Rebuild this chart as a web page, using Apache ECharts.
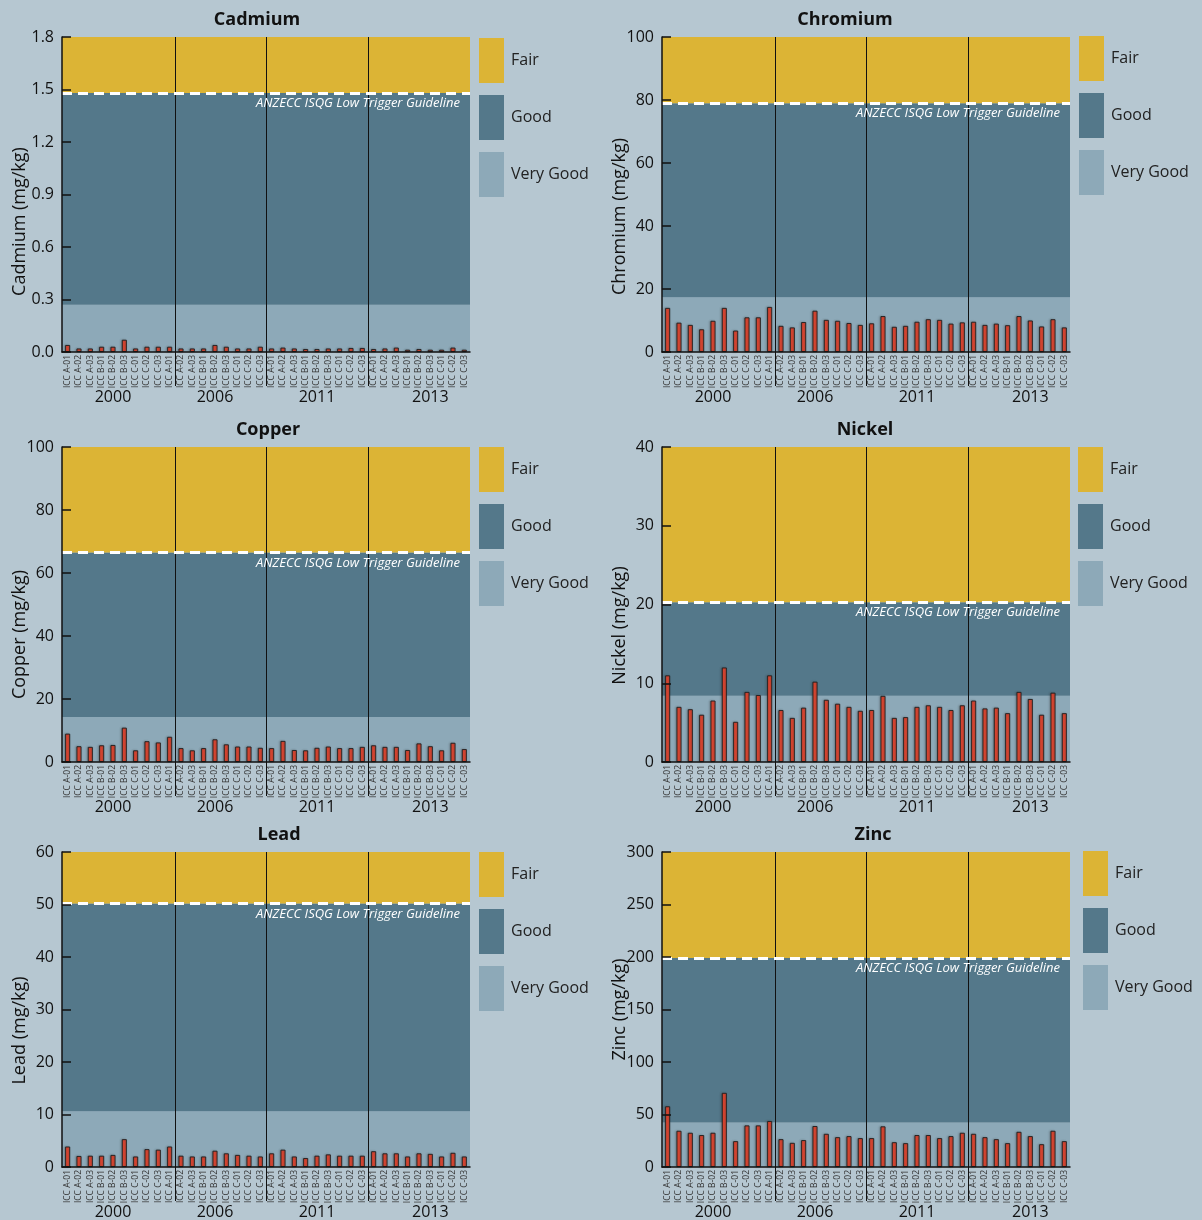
<!DOCTYPE html>
<html>
<head>
<meta charset="utf-8">
<title>Sediment metals</title>
<script src="https://cdn.jsdelivr.net/npm/echarts@6/dist/echarts.min.js"></script>
<style>
  html, body { margin: 0; padding: 0; background: #b6c7d1; }
  #chart { width: 1202px; height: 1220px; }
</style>
</head>
<body>
<div id="chart"></div>
<script>
// ---- data -------------------------------------------------------------
const sites = ['ICC A-01', 'ICC A-02', 'ICC A-03', 'ICC B-01', 'ICC B-02', 'ICC B-03', 'ICC C-01', 'ICC C-02', 'ICC C-03'];
const surveyYears = ['2000', '2006', '2011', '2013'];
const barsPerSurvey = [10, 8, 9, 9];

const metals = ['Cadmium', 'Chromium', 'Copper', 'Nickel', 'Lead', 'Zinc'];
const axisMax = [1.8, 100, 100, 40, 60, 300];
const axisStep = [0.3, 20, 20, 10, 10, 50];
const lowTrigger = [1.48, 79, 66.5, 20.3, 50.2, 199];     // ANZECC ISQG-Low
const veryGoodLimit = [0.27, 17.4, 14.3, 8.4, 10.6, 42.5];

const cadmium = [0.04, 0.02, 0.02, 0.03, 0.03, 0.07, 0.02, 0.03, 0.03, 0.03,
                 0.02, 0.02, 0.02, 0.04, 0.03, 0.02, 0.02, 0.03,
                 0.02, 0.025, 0.02, 0.017, 0.017, 0.02, 0.02, 0.023, 0.023,
                 0.017, 0.02, 0.025, 0.013, 0.017, 0.013, 0.013, 0.025, 0.013];
const chromium = [14.0, 9.3, 8.6, 7.2, 9.9, 14.0, 6.8, 11.0, 11.0, 14.3,
                  8.3, 7.8, 9.5, 13.1, 10.2, 9.9, 9.2, 8.6,
                  9.1, 11.4, 8.0, 8.3, 9.6, 10.4, 10.2, 9.0, 9.4,
                  9.6, 8.6, 9.0, 8.5, 11.4, 10.0, 8.1, 10.4, 7.8];
const copper = [9.0, 5.0, 4.8, 5.3, 5.4, 10.9, 3.7, 6.6, 6.2, 8.0,
                4.4, 3.7, 4.4, 7.2, 5.6, 4.9, 4.9, 4.5,
                4.4, 6.7, 3.8, 3.7, 4.5, 4.9, 4.4, 4.4, 4.8,
                5.3, 4.8, 4.8, 3.8, 5.9, 5.0, 3.7, 6.1, 4.1];
const nickel = [11.0, 7.0, 6.7, 6.0, 7.8, 12.0, 5.1, 8.9, 8.5, 11.0,
                6.6, 5.6, 6.9, 10.2, 7.9, 7.4, 7.0, 6.5,
                6.6, 8.4, 5.6, 5.7, 7.0, 7.2, 7.0, 6.6, 7.2,
                7.8, 6.8, 6.9, 6.2, 8.9, 8.0, 6.0, 8.8, 6.2];
const lead = [3.9, 2.1, 2.15, 2.15, 2.3, 5.3, 2.0, 3.4, 3.3, 3.9,
              2.15, 2.0, 2.0, 3.1, 2.6, 2.3, 2.15, 2.0,
              2.6, 3.3, 2.0, 1.7, 2.15, 2.4, 2.15, 2.15, 2.15,
              3.0, 2.6, 2.6, 2.0, 2.6, 2.5, 2.0, 2.7, 2.0];
const zinc = [57.8, 34.5, 32.6, 30.4, 32.6, 70.6, 24.6, 39.6, 39.6, 43.8,
              26.5, 23.0, 25.6, 39.0, 31.6, 28.4, 29.4, 27.5,
              27.5, 38.7, 23.6, 22.7, 30.4, 30.4, 27.5, 29.4, 32.6,
              31.6, 28.4, 26.5, 22.7, 33.5, 29.4, 21.7, 34.5, 24.6];
const metalValues = [cadmium, chromium, copper, nickel, lead, zinc];

// ---- layout -----------------------------------------------------------
const FONT = '"Open Sans", "Noto Sans", sans-serif';
const COLORS = { fair: '#dcb435', good: '#54788a', veryGood: '#8da9b8', bar: '#db4530' };
const panelLayout = [
  { left: 62,  top: 37,  height: 315, title: [257, 20],  legend: [479, 38],  nameShift: 27 },
  { left: 662, top: 37,  height: 315, title: [845, 20],  legend: [1079, 36], nameShift: 22 },
  { left: 62,  top: 447, height: 315, title: [268, 430], legend: [479, 447], nameShift: 30 },
  { left: 662, top: 447, height: 315, title: [865, 430], legend: [1078, 447], nameShift: 21 },
  { left: 62,  top: 852, height: 316, title: [279, 835], legend: [479, 852], nameShift: 21 },
  { left: 662, top: 852, height: 316, title: [873, 835], legend: [1083, 851], nameShift: 0 }
];
const PLOT_WIDTH = 408;
const yearLabelIndex = [4, 13, 22, 32];   // bar under which each survey year is written

// categories: the site list repeated for each survey
const categories = [];
surveyYears.forEach(() => sites.forEach(s => categories.push(s)));

// survey block boundaries (in bar units)
const surveyBreaks = [];
barsPerSurvey.slice(0, -1).reduce((acc, n) => { acc += n; surveyBreaks.push(acc); return acc; }, 0);

const option = {
  backgroundColor: '#b6c7d1',
  animation: false,
  textStyle: { fontFamily: FONT },
  grid: [], xAxis: [], yAxis: [], series: [], legend: [], graphic: []
};

metals.forEach((metal, i) => {
  const L = panelLayout[i];
  const max = axisMax[i];
  const vg = veryGoodLimit[i];
  const trig = lowTrigger[i];

  option.grid.push({ left: L.left, top: L.top, width: PLOT_WIDTH, height: L.height, containLabel: false });

  // site axis
  option.xAxis.push({
    type: 'category', gridIndex: i, data: categories, position: 'bottom', z: 10,
    axisLine: { lineStyle: { color: '#111', width: 1.5 } },
    axisTick: { show: false },
    splitLine: { show: false },
    axisLabel: { interval: 0, rotate: 90, fontSize: 8.5, color: '#333', margin: 3, fontFamily: FONT }
  });
  // survey-year labels
  option.xAxis.push({
    type: 'category', gridIndex: i, data: categories, position: 'bottom',
    axisLine: { show: false }, axisTick: { show: false }, splitLine: { show: false },
    axisLabel: {
      interval: (idx) => yearLabelIndex.indexOf(idx) >= 0,
      formatter: (v, idx) => surveyYears[yearLabelIndex.indexOf(idx)] || '',
      fontSize: 16, color: '#111', margin: 37, fontFamily: FONT
    }
  });
  // continuous helper axis for survey dividers
  option.xAxis.push({ type: 'value', gridIndex: i, min: 0, max: categories.length, show: false });

  option.yAxis.push({
    type: 'value', gridIndex: i, min: 0, max: max, interval: axisStep[i], z: 10,
    name: metal + ' (mg/kg)', nameLocation: 'middle', nameGap: 33, nameMoveOverlap: false,
    nameTextStyle: { fontSize: 18, color: '#111', fontFamily: FONT,
                     padding: [0, 2 * L.nameShift, 0, 0] },
    axisLine: { show: true, lineStyle: { color: '#111', width: 1.5 } },
    axisTick: { show: true, inside: true, length: 9, lineStyle: { color: '#111', width: 1.5 } },
    splitLine: { show: false },
    axisLabel: {
      fontSize: 16, color: '#111', margin: 8, fontFamily: FONT,
      formatter: (v) => (axisStep[i] < 1 ? v.toFixed(1) : String(v))
    }
  });

  const xIdx = i * 3;
  // condition bands
  [['Very Good', 0, vg, COLORS.veryGood], ['Good', vg, trig, COLORS.good], ['Fair', trig, max, COLORS.fair]]
    .forEach(([name, from, to, color]) => {
      option.series.push({
        type: 'line', name: name, xAxisIndex: xIdx, yAxisIndex: i, data: [],
        color: color, itemStyle: { color: color }, lineStyle: { color: color },
        silent: true, z: 1,
        markArea: { silent: true, itemStyle: { color: color, opacity: 1 },
                    data: [[{ yAxis: from }, { yAxis: to }]] }
      });
    });

  // sample bars + guideline
  option.series.push({
    type: 'bar', name: metal, xAxisIndex: xIdx, yAxisIndex: i, data: metalValues[i],
    barWidth: 5, silent: true, z: 3,
    itemStyle: { color: COLORS.bar, borderColor: '#1e1e1e', borderWidth: 0.9,
                 shadowColor: 'rgba(50,50,50,0.35)', shadowBlur: 2, shadowOffsetX: -1 },
    markLine: {
      silent: true, symbol: 'none', z: 6,
      lineStyle: { color: '#ffffff', type: [10, 6], width: 3, opacity: 1 },
      label: { show: true, position: 'insideEndBottom', distance: [10, 4],
               formatter: 'ANZECC ISQG Low Trigger Guideline',
               color: '#ffffff', fontStyle: 'italic', fontSize: 13, fontFamily: FONT },
      data: [{ yAxis: trig }]
    }
  });

  // survey dividers, running from the top of the plot down through the site labels
  option.series.push({
    type: 'custom', xAxisIndex: xIdx + 2, yAxisIndex: i, silent: true, z: 4, clip: false,
    data: surveyBreaks.map(b => [b, max]),
    renderItem: (params, api) => {
      const top = api.coord([api.value(0), api.value(1)]);
      const base = api.coord([api.value(0), 0]);
      return {
        type: 'line',
        shape: { x1: Math.round(top[0]) + 0.5, y1: top[1], x2: Math.round(base[0]) + 0.5, y2: base[1] + 34 },
        style: { stroke: '#111', lineWidth: 1 }
      };
    }
  });

  option.legend.push({
    orient: 'vertical', left: L.legend[0], top: L.legend[1], padding: 0,
    itemWidth: 25, itemHeight: 45, itemGap: 12, icon: 'rect', selectedMode: false,
    data: ['Fair', { name: 'Good', textStyle: { padding: [13, 0, 0, 2] } }, 'Very Good'],
    textStyle: { fontSize: 16, color: '#222', fontFamily: FONT, padding: [0, 0, 0, 2] }
  });

  option.graphic.push({
    type: 'text', x: L.title[0], y: L.title[1], silent: true,
    style: { text: metal, align: 'center', verticalAlign: 'middle',
             font: 'bold 18px ' + FONT, fill: '#111' }
  });
});

const chart = echarts.init(document.getElementById('chart'), null, { renderer: 'canvas' });
chart.setOption(option);
</script>
</body>
</html>
